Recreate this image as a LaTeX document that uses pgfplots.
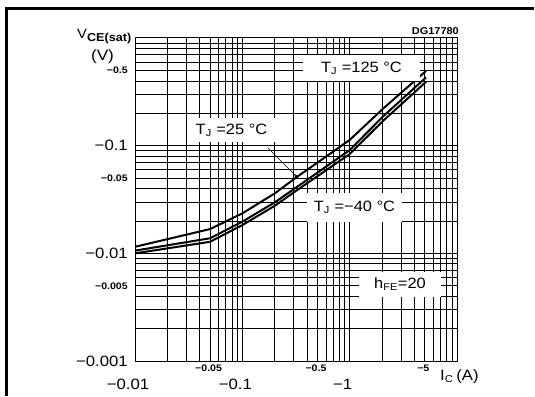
\documentclass[border=0pt]{standalone}
\usepackage{pgfplots}
\pgfplotsset{compat=1.18}
\usepackage{fontspec}
\setmainfont{Liberation Sans}
\usetikzlibrary{arrows.meta}
\newcommand{\bigf}{\fontsize{15}{15}\selectfont}
\newcommand{\smallf}{\fontsize{9.5}{9.5}\selectfont\bfseries}
\begin{document}
\begin{tikzpicture}
\begin{scope}[x=1bp,y=1bp]
\useasboundingbox (0,0) rectangle (535,396);
\draw[line width=2.6bp] (6.5,0) -- (6.5,387.5) -- (533.5,387.5);
\end{scope}
\begin{axis}[
  at={(135bp,35bp)}, anchor=south west,
  scale only axis, width=322bp, height=323bp,
  xmode=log, ymode=log,
  xmin=0.01, xmax=10, ymin=0.001, ymax=1,
  xtick={0.01,0.1,1}, xticklabels={−0.01,−0.1,−1},
  ytick={0.001,0.01,0.1}, yticklabels={−0.001,−0.01,−0.1},
  minor xtick={0.02,0.03,0.04,0.05,0.06,0.07,0.08,0.09,0.2,0.3,0.4,0.5,0.6,0.7,0.8,0.9,2,3,4,5,6,7,8,9},
  minor ytick={0.002,0.003,0.004,0.005,0.006,0.007,0.008,0.009,0.02,0.03,0.04,0.05,0.06,0.07,0.08,0.09,0.2,0.3,0.4,0.5,0.6,0.7,0.8,0.9},
  extra x ticks={0.05,0.5,5}, extra x tick labels={−0.05,−0.5,−5},
  extra y ticks={0.005,0.05,0.5}, extra y tick labels={−0.005,−0.05,−0.5},
  grid=both,
  major grid style={black, line width=0.9bp},
  minor grid style={black, line width=0.65bp},
  major tick length=0pt, minor tick length=0pt,
  axis line style={black, line width=1bp},
  xticklabel style={anchor=base, inner sep=0pt, yshift=-28bp, xshift=-7bp, font=\bigf, xscale=1.12},
  yticklabel style={anchor=east, inner sep=0pt, xshift=-7bp, font=\bigf, xscale=1.12},
  extra x tick style={grid=major, major grid style={black, line width=0.65bp},
     xticklabel style={yshift=18bp, xshift=5bp, font=\smallf, xscale=1.0}},
  extra y tick style={grid=major, major grid style={black, line width=0.65bp},
     yticklabel style={font=\smallf, xscale=1.0}},
]
% T_J = 125 C (top)
\addplot[black, line width=2bp] coordinates {
 (0.01,0.0115) (0.05,0.0168) (0.1,0.0235) (0.2,0.036) (0.324,0.0514) (0.5,0.0695) (1,0.113) (2.06,0.222) (5.15,0.495)};
% T_J = 25 C (middle)
\addplot[black, line width=2bp] coordinates {
 (0.01,0.0106) (0.05,0.0138) (0.1,0.0197) (0.2,0.0297) (0.324,0.0415) (0.5,0.0561) (1,0.091) (2.06,0.188) (5.15,0.431)};
% T_J = -40 C (bottom)
\addplot[black, line width=2bp] coordinates {
 (0.01,0.0100) (0.05,0.0128) (0.1,0.0183) (0.2,0.0276) (0.324,0.0387) (0.5,0.052) (1,0.0836) (2.06,0.171) (5.15,0.392)};
\end{axis}
\begin{scope}[x=1bp,y=1bp]
\node[anchor=base west, inner sep=0pt, font=\fontsize{13.5}{13.5}\selectfont, xscale=1.1] at (77,358) {V\textsubscript{\bfseries\fontsize{11.5}{11.5}\selectfont CE(sat)}};
\node[anchor=base, inner sep=0pt, font=\fontsize{15}{15}\selectfont, xscale=1.15] at (102.5,336) {(V)};
\node[anchor=base east, inner sep=0pt, font=\fontsize{10}{10}\selectfont\bfseries, xscale=1.1] at (459,362) {DG17780};
\node[anchor=base west, inner sep=0pt, font=\bigf, xscale=1.12] at (440,16) {I\textsubscript{\fontsize{10}{10}\selectfont C}\,(A)};
\node[fill=white, inner sep=0pt, minimum width=107bp, minimum height=26bp, font=\bigf, xscale=1.1] at (361.5,328) {T\textsubscript{\fontsize{10}{10}\selectfont J} =125 °C};
\node[fill=white, inner sep=0pt, minimum width=80bp, minimum height=24bp, font=\bigf, xscale=1.1] at (231.5,266) {T\textsubscript{\fontsize{10}{10}\selectfont J} =25 °C};
\node[fill=white, inner sep=0pt, minimum width=87bp, minimum height=29bp, font=\bigf, xscale=1.1] at (354.5,188.5) {T\textsubscript{\fontsize{10}{10}\selectfont J} =−40 °C};
\node[fill=white, inner sep=0pt, minimum width=75bp, minimum height=25bp, font=\bigf, xscale=1.1] at (400,111.5) {h\textsubscript{\fontsize{10}{10}\selectfont FE}=20};
\draw[line width=0.6bp, -{Stealth[length=5bp,width=3bp]}] (268,248) -- (298,218);
\end{scope}
\end{tikzpicture}
\end{document}
